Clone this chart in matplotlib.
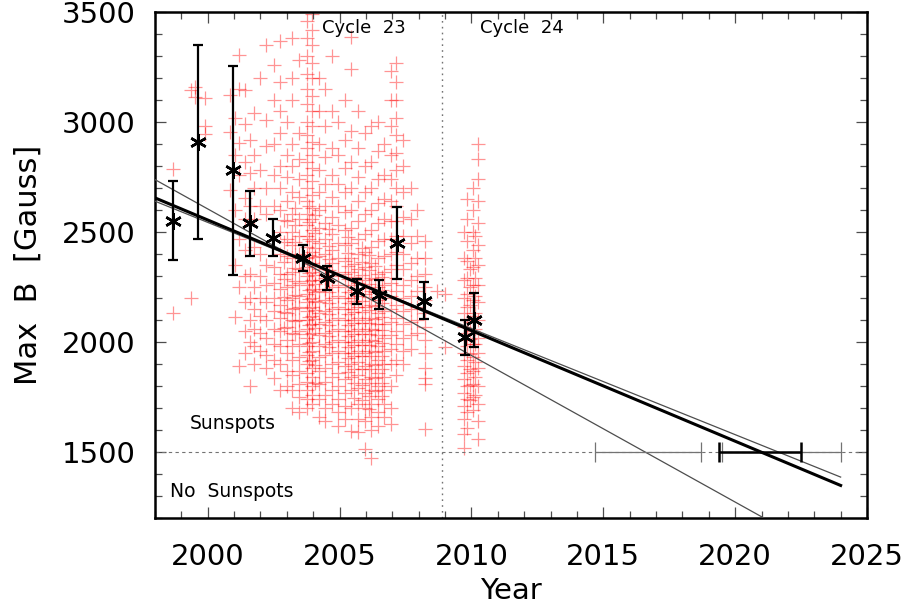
import matplotlib
matplotlib.use("Agg")
import matplotlib.pyplot as plt

# --- Bin averages of max field (asterisks with error bars) ---
bin_year = [1998.69, 1999.64, 2000.95, 2001.60, 2002.49, 2003.60, 2004.51,
            2005.67, 2006.48, 2007.19, 2008.21, 2009.76, 2010.11]
bin_b = [2552, 2909, 2780, 2540, 2474, 2382, 2291, 2230, 2215, 2451, 2188, 2021, 2100]
bin_err = [178, 440, 475, 148, 85, 60, 54, 57, 66, 163, 85, 78, 122]

# --- Linear fits (end points) ---
fit_year = [1998, 2024]
fit_thick = [2655, 1348]
fit_thin1 = [2640, 1386]
fit_thin2 = [2738, 1006]

# --- Where the fits cross 1500 G, with uncertainty ---
cross_year = [2016.7, 2021.75, 2020.95]
cross_err = [2.0, 2.25, 1.55]

# --- Individual sunspot umbral measurements, grouped by observation date ---
spot_col_year = [1998.7, 1999.35, 1999.5, 1999.9, 2000.85, 2001.05, 2001.2, 2001.4,
                 2001.6, 2001.75, 2002.0, 2002.2, 2002.5, 2002.75, 2002.9, 2003.0,
                 2003.2, 2003.3, 2003.45, 2003.75, 2003.85, 2003.95, 2004.05, 2004.2,
                 2004.45, 2004.6, 2004.7, 2004.95, 2005.2, 2005.3, 2005.45, 2005.55,
                 2005.7, 2005.85, 2005.95, 2006.1, 2006.2, 2006.35, 2006.45, 2006.6,
                 2006.7, 2006.95, 2007.15, 2007.4, 2007.7, 2007.95, 2008.24, 2008.7,
                 2009.0, 2009.7, 2009.85, 2009.95, 2010.05, 2010.15, 2010.25]
spot_col_b = [
    [2788, 2130],
    [3145, 2198],
    [3114, 3160],
    [3110, 2980, 2945],
    [3122, 2955, 2690],
    [3020, 2850, 2600, 2350, 2113],
    [3304, 3150, 2905, 2760, 2470, 2250, 1892],
    [3145, 2990, 2820, 2655, 2560, 2420, 2300, 2180, 2050, 1950],
    [2920, 2770, 2620, 2310, 2200, 2100, 2000, 1800],
    [3040, 2850, 2700, 2560, 2430, 2250, 2150, 2060, 1980, 1900],
    [3200, 2780, 2620, 2400, 2300, 2200, 2120, 2040, 1960],
    [3350, 3010, 2890, 2700, 2580, 2350, 2260, 2180, 2100, 2020, 1940, 1880],
    [3260, 3100, 2900, 2760, 2620, 2340, 2270, 2200, 2140, 2060, 1990, 1920, 1838],
    [3370, 3180, 3050, 2950, 2800, 2700, 2600, 2500, 2400, 2310, 2240, 2170, 2110,
     2050, 1980, 1900, 1780],
    [2555, 2455, 2365, 2285, 2205, 2135, 2065],
    [3000, 2850, 2750, 2640, 2550, 2470, 2390, 2310, 2250, 2190, 2130, 2070, 2010,
     1950, 1870, 1800],
    [3380, 3200, 3100, 2900, 2800, 2680, 2580, 2500, 2440, 2380, 2320, 2260, 2200,
     2150, 2100, 2040, 1980, 1920, 1850, 1780, 1702],
    [2610, 2530, 2455, 2395, 2335, 2275, 2215, 2155, 2095, 2035],
    [3280, 2950, 2830, 2740, 2660, 2560, 2480, 2400, 2330, 2270, 2210, 2160, 2100,
     2050, 1990, 1930, 1870, 1810, 1750, 1680],
    [3460, 3380, 3300, 3220, 3150, 3080, 3000, 2940, 2880, 2820, 2760, 2700, 2640,
     2580, 2530, 2480, 2430, 2380, 2340, 2300, 2260, 2220, 2180, 2140, 2100, 2060,
     2020, 1980, 1940, 1900, 1860, 1820, 1780, 1740, 1700],
    [2620, 2545, 2470, 2395, 2355, 2315, 2275, 2235, 2195, 2155, 2115, 2075, 2035,
     1995, 1955, 1915],
    [3490, 3420, 3350, 3270, 3200, 3120, 3050, 2980, 2910, 2850, 2790, 2730, 2670,
     2610, 2560, 2510, 2460, 2410, 2360, 2320, 2280, 2240, 2200, 2160, 2120, 2080,
     2040, 2000, 1960, 1920, 1880, 1840, 1800, 1760, 1720],
    [2575, 2495, 2425, 2385, 2345, 2305, 2265, 2225, 2185, 2145, 2105, 2065, 1895, 1815],
    [3200, 3050, 2900, 2780, 2680, 2600, 2520, 2450, 2390, 2330, 2280, 2230, 2180,
     2130, 2080, 2030, 1980, 1930, 1870, 1810, 1740, 1660],
    [3150, 2980, 2840, 2720, 2620, 2540, 2470, 2400, 2340, 2290, 2240, 2190, 2140,
     2090, 2040, 1990, 1940, 1880, 1820, 1760, 1700, 1640],
    [2515, 2435, 2375, 2325, 2275, 2225, 2175, 2125, 2075, 2025, 1975],
    [3300, 3050, 2880, 2760, 2660, 2570, 2490, 2420, 2360, 2300, 2250, 2200, 2150,
     2100, 2050, 2000, 1950, 1900, 1840, 1780, 1720],
    [3000, 2850, 2720, 2620, 2530, 2450, 2380, 2320, 2260, 2210, 2160, 2110, 2060,
     2010, 1960, 1910, 1860, 1800, 1740, 1680, 1620],
    [3100, 2920, 2790, 2680, 2590, 2510, 2440, 2370, 2310, 2250, 2200, 2150, 2100,
     2050, 2000, 1950, 1890, 1830, 1770, 1710, 1650],
    [2475, 2405, 2345, 2285, 2225, 2175, 2125, 2075, 2025, 1975, 1925, 1865],
    [3388, 3240, 2960, 2820, 2700, 2600, 2520, 2450, 2380, 2320, 2260, 2200, 2150,
     2100, 2050, 2000, 1950, 1900, 1840, 1780, 1700, 1596],
    [2355, 2295, 2235, 2185, 2135, 2085, 2035, 1985, 1935, 1875, 1815, 1745],
    [3050, 2880, 2750, 2640, 2550, 2470, 2400, 2330, 2270, 2210, 2160, 2110, 2060,
     2010, 1960, 1910, 1850, 1790, 1720, 1650, 1590],
    [2425, 2365, 2305, 2245, 2185, 2135, 2085, 2035, 1985, 1935, 1875, 1805, 1735],
    [2950, 2800, 2680, 2580, 2490, 2410, 2340, 2280, 2220, 2160, 2100, 2050, 2000,
     1950, 1890, 1830, 1770, 1700, 1640, 1514],
    [2395, 2325, 2265, 2205, 2145, 2085, 2035, 1985, 1935, 1875, 1815, 1755, 1695],
    [2980, 2820, 2700, 2600, 2510, 2430, 2360, 2290, 2230, 2170, 2110, 2060, 2010,
     1960, 1900, 1840, 1780, 1720, 1660, 1600, 1474],
    [2345, 2285, 2225, 2165, 2105, 2055, 2005, 1955, 1895, 1835, 1775],
    [3000, 2870, 2740, 2630, 2540, 2460, 2380, 2310, 2250, 2190, 2130, 2080, 2030,
     1980, 1920, 1860, 1800, 1740, 1680, 1620],
    [2295, 2235, 2175, 2115, 2055, 1995, 1935, 1875, 1815, 1755],
    [2900, 2760, 2650, 2560, 2470, 2390, 2320, 2260, 2200, 2140, 2080, 2020, 1960,
     1900, 1840, 1780, 1720, 1660],
    [3230, 3100, 2980, 2850, 2740, 2640, 2550, 2470, 2400, 2330, 2270, 2210, 2150,
     2090, 2030, 1970, 1900, 1800, 1700, 1628],
    [3270, 3180, 3100, 3020, 2940, 2860, 2780, 2700, 2620, 2550, 2480, 2410, 2350,
     2290, 2230, 2170, 2110, 2050, 1990, 1920, 1850],
    [2920, 2800, 2680, 2570, 2480, 2400, 2330, 2260, 2200, 2140, 2080, 2020, 1960, 1900],
    [2700, 2560, 2450, 2360, 2280, 2210, 2150, 2090, 2030, 1970],
    [2600, 2480, 2380, 2300, 2230, 2160, 2100, 2040],
    [2460, 2380, 2310, 2250, 2190, 2130, 2070, 2010, 1950, 1880, 1838, 1810, 1604],
    [2233],
    [2218, 1975],
    [2500, 2380, 2280, 2200, 2130, 2070, 2010, 1950, 1890, 1830, 1770, 1710, 1650,
     1580, 1520],
    [2650, 2560, 2460, 2370, 2290, 2220, 2160, 2100, 2040, 1980, 1920, 1860, 1800,
     1740, 1680, 1610],
    [2330, 2250, 2170, 2090, 2015, 1945, 1875, 1805, 1735],
    [2700, 2600, 2500, 2420, 2340, 2260, 2190, 2120, 2050, 1990, 1930, 1870, 1810,
     1750, 1690],
    [2480, 2380, 2290, 2210, 2130, 2060, 1990, 1910, 1840, 1760],
    [2900, 2830, 2740, 2640, 2540, 2440, 2350, 2260, 2180, 2100, 2020, 1950, 1880,
     1800, 1720, 1640, 1560],
]


def plot_data():
    fig = plt.figure(figsize=(9.07, 6.05), dpi=100)
    ax = fig.add_axes([0.1709, 0.1438, 0.785, 0.8364])

    # --- Flatten the sunspot columns ---
    spot_x, spot_y = [], []
    for yr, vals in zip(spot_col_year, spot_col_b):
        for v in vals:
            spot_x.append(yr)
            spot_y.append(v)

    ax.plot(spot_x, spot_y, linestyle="none", marker="+", markersize=10,
            markeredgewidth=0.9, color="red", alpha=0.42, zorder=1)

    # --- Reference lines ---
    ax.axhline(1500, color="0.45", linestyle=(0, (3, 3)), linewidth=0.8, zorder=2)
    ax.axvline(2008.9, color="0.45", linestyle=(0, (1.2, 3)), linewidth=1.0, zorder=2)

    # --- Fits ---
    ax.plot(fit_year, fit_thin2, color="0.3", linewidth=0.9, zorder=3)
    ax.plot(fit_year, fit_thin1, color="0.3", linewidth=0.9, zorder=3)
    ax.plot(fit_year, fit_thick, color="black", linewidth=2.2, zorder=4)

    # --- Crossing dates with uncertainty ---
    ax.errorbar(cross_year[:2], [1500, 1500], xerr=cross_err[:2], fmt="none",
                ecolor="0.45", elinewidth=0.9, capsize=7, capthick=0.9, zorder=3)
    ax.errorbar(cross_year[2:], [1500], xerr=cross_err[2:], fmt="none",
                ecolor="black", elinewidth=1.8, capsize=7.5, capthick=1.8, zorder=5)

    # --- Bin averages ---
    ax.errorbar(bin_year, bin_b, yerr=bin_err, fmt="none", ecolor="black",
                elinewidth=1.6, capsize=3.5, capthick=1.6, zorder=5)
    ax.plot(bin_year, bin_b, linestyle="none", marker=(6, 2, 0), markersize=12,
            markeredgewidth=1.8, color="black", zorder=6)

    # --- Annotations ---
    ax.text(2004.33, 3427, "Cycle  23", fontsize=13, va="center", ha="left")
    ax.text(2010.32, 3427, "Cycle  24", fontsize=13, va="center", ha="left")
    ax.text(1999.33, 1628, "Sunspots", fontsize=13.5, va="center", ha="left")
    ax.text(1998.57, 1322, "No  Sunspots", fontsize=13.5, va="center", ha="left")

    # --- Axes styling ---
    ax.set_xlim(1998, 2025)
    ax.set_ylim(1200, 3500)
    ax.set_xticks([2000, 2005, 2010, 2015, 2020, 2025])
    ax.set_xticks(range(1998, 2026), minor=True)
    ax.set_yticks([1500, 2000, 2500, 3000, 3500])
    ax.set_yticks(range(1200, 3501, 100), minor=True)
    ax.tick_params(which="both", direction="in", top=True, right=True,
                   labelsize=21, width=0.9, color="0.3")
    ax.tick_params(which="major", length=8, pad=14)
    ax.tick_params(which="minor", length=5)
    ax.tick_params(axis="x", which="major", pad=18)
    for spine in ax.spines.values():
        spine.set_linewidth(1.8)

    ax.set_xlabel("Year", fontsize=21, labelpad=4)
    ax.set_ylabel("Max  B  [Gauss]", fontsize=22, labelpad=14)

    fig.savefig("out.png", dpi=100)
    plt.close(fig)


if __name__ == "__main__":
    plot_data()
